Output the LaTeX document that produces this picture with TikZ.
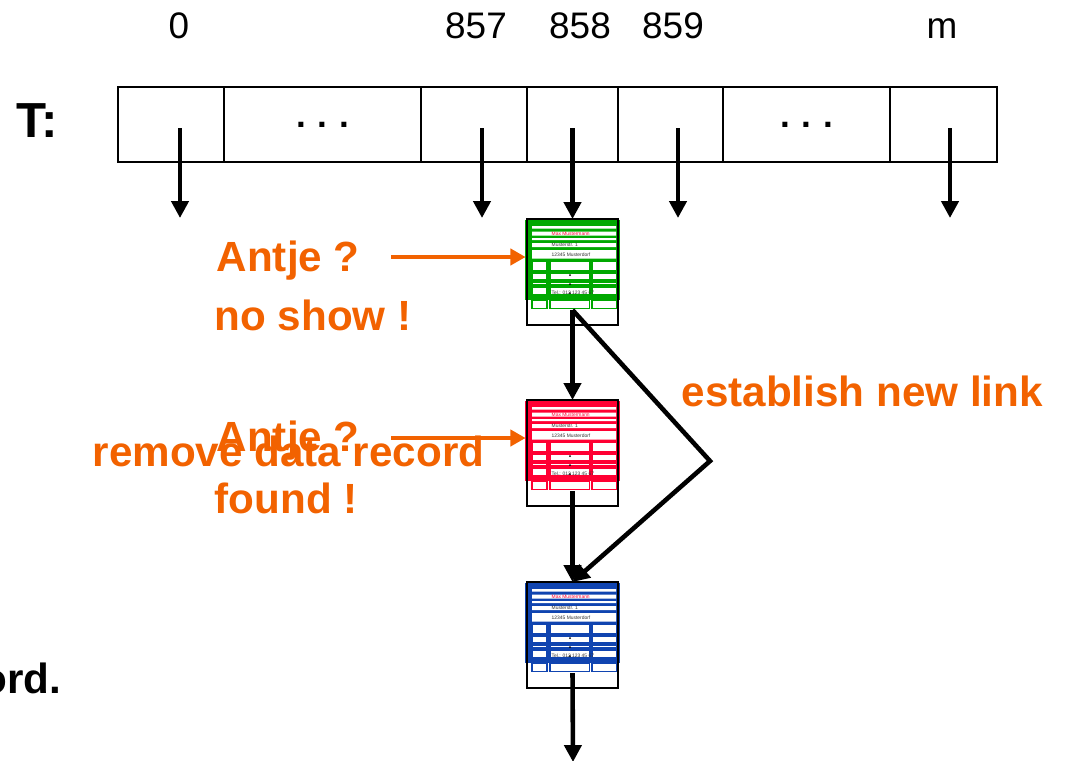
\documentclass[tikz,border=0pt]{standalone}
\usepackage{fontspec}
\setmainfont{Liberation Sans}
\usetikzlibrary{arrows.meta}

\definecolor{recgreen}{RGB}{0,168,0}
\definecolor{recred}{RGB}{255,0,51}
\definecolor{recblue}{RGB}{16,68,176}
\definecolor{hint}{RGB}{242,98,0}

% One data record card: #1 name, #2 left x, #3 top y, #4 colour
\newcommand\datarecord[4]{%
  \begin{scope}[shift={(#2,#3)}]
    \fill[#4] (-2,1) rectangle (93,81);
    \fill[white] (5,7) rectangle (89,9.6)
                 (5,12.5) rectangle (89,16.5)
                 (5,19) rectangle (89,21)
                 (5,24) rectangle (89,28)
                 (5,31) rectangle (89,39.5);
    \foreach \ya/\yb in {42/51.3,53.7/60.5,63/65.6,68.3/75.7,81/89.3}
      \foreach \xa/\xb in {5/20,23/62.5,65/89.6}
        \draw[#4, fill=white, line width=0.45pt] (\xa,\ya) rectangle (\xb,\yb);
    \node[tinytext, text=recred] at (24,14.5) {Max Mustermann};
    \node[tinytext] at (24,26) {Musterstr. 1};
    \node[tinytext] at (24,35.5) {12345 Musterdorf};
    \node[tinytext] at (24,74) {Tel.: 012 123 45 67};
    \fill (43,56) circle (1) (43,65) circle (1) (43,74) circle (1);
    \node[recbox] (#1) at (45.5,53) {};
    \coordinate (#1-in) at (45.5,0);
    \coordinate (#1-out) at (45.5,91);
  \end{scope}}

\begin{document}
\begin{tikzpicture}[x=0.01cm, y=-0.01cm,
    cell/.style={draw, line width=0.6pt, minimum height=0.75cm, inner sep=0pt,
                 font=\bfseries\fontsize{10}{12}\selectfont},
    recbox/.style={draw, line width=0.8pt, minimum width=0.91cm, minimum height=1.06cm, inner sep=0pt},
    tinytext/.style={font=\fontsize{1.4pt}{1.6pt}\selectfont, inner sep=0pt, anchor=west, text=black!80},
    idx/.style={font=\fontsize{10.5}{12}\selectfont, inner sep=0pt, anchor=base},
    say/.style={font=\bfseries\fontsize{12}{14}\selectfont, text=hint, inner sep=0pt, anchor=base west},
    ptr/.style={line width=1.3pt, -{Triangle[width=4.8pt,length=4.8pt]}},
    ask/.style={hint, line width=1pt, -{Triangle[width=4.6pt,length=4.3pt]}}]

  \useasboundingbox (0,0) rectangle (1070,760);

  % hash table T and its slot indices
  \node[font=\bfseries\fontsize{14}{16}\selectfont, inner sep=0pt, anchor=base west] (tname) at (16,137) {T:};
  \node[cell, minimum width=1.06cm] (c0)   at (171,124.5) {};
  \node[cell, minimum width=1.97cm] (d1)   at (322.5,124.5) {.\,\,.\,\,.};
  \node[cell, minimum width=1.06cm] (c857) at (474,124.5) {};
  \node[cell, minimum width=0.91cm] (c858) at (572.5,124.5) {};
  \node[cell, minimum width=1.05cm] (c859) at (670.5,124.5) {};
  \node[cell, minimum width=1.67cm] (d2)   at (806.5,124.5) {.\,\,.\,\,.};
  \node[cell, minimum width=1.07cm] (cm)   at (943.5,124.5) {};

  \node[idx] (i0)   at (179,38) {0};
  \node[idx] (i857) at (476,38) {857};
  \node[idx] (i858) at (580,38) {858};
  \node[idx] (i859) at (673,38) {859};
  \node[idx] (im)   at (942,38) {m};

  % overflow chain of slot 858
  \datarecord{g}{527}{219}{recgreen}
  \datarecord{r}{527}{400}{recred}
  \datarecord{b}{527}{582}{recblue}

  % slot pointers
  \coordinate (s0)   at (180,128);  \coordinate (e0)   at (180,218);
  \coordinate (s857) at (482,128);  \coordinate (e857) at (482,218);
  \coordinate (s859) at (678,128);  \coordinate (e859) at (678,218);
  \coordinate (sm)   at (950,128);  \coordinate (em)   at (950,218);
  \draw[ptr] (s0) -- (e0);
  \draw[ptr] (s857) -- (e857);
  \draw[ptr] (s859) -- (e859);
  \draw[ptr] (sm) -- (em);
  \draw[ptr] (c858.center |- 0,128) -- (g-in);

  % chain links
  \draw[ptr] (g-out) -- (r-in);
  \draw[ptr] (r-out) -- (b-in);
  \coordinate (turn) at (710,461);
  \draw[ptr, line join=miter] (g-out) -- (turn) -- (b-in);
  \coordinate (tail) at (573,762);
  \draw[ptr] (b-out) -- (tail);

  % search annotations
  \node[say] (a1) at (216,271.7) {Antje ?};
  \node[say] (n1) at (214,330.7) {no show !};
  \node[say] (a2) at (216,451.7) {Antje ?};
  \node[say] (rm) at (92,466.7) {remove data record};
  \node[say] (f2) at (214,513) {found !};
  \node[say] (nl) at (681,406.7) {establish new link};
  \coordinate (q1) at (391,257);
  \coordinate (q2) at (391,438);
  \draw[ask] (q1) -- (q1 -| g.west);
  \draw[ask] (q2) -- (q2 -| r.west);

  \node[font=\bfseries\fontsize{12}{14}\selectfont, inner sep=0pt, anchor=base east] (tailnote) at (62,693) {ord.};
\end{tikzpicture}
\end{document}
